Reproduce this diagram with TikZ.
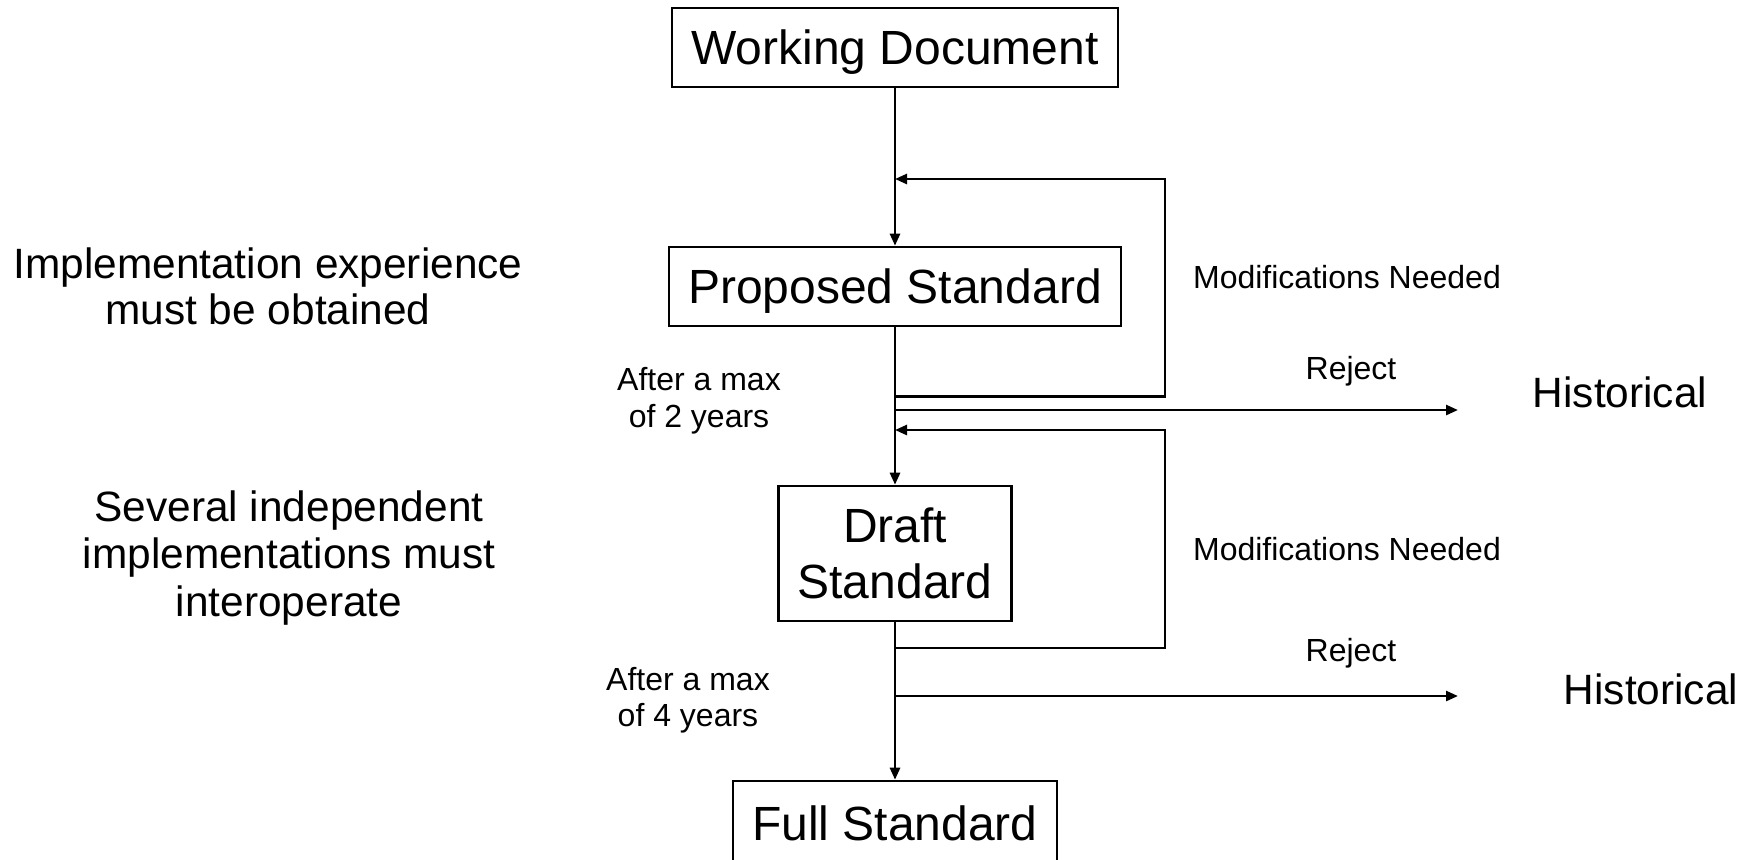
\documentclass[tikz,border=0pt]{standalone}
\usepackage{fontspec}
\setmainfont{Liberation Sans}
\usetikzlibrary{arrows.meta}
\begin{document}
\begin{tikzpicture}[x=0.5pt,y=-0.5pt,
  box/.style={draw, line width=1.3pt, inner sep=0pt, align=center, font=\fontsize{24}{28}\selectfont},
  onebox/.style={box, text height=17.2pt, text depth=0pt},
  midtext/.style={inner sep=0pt, align=center, font=\fontsize{21.2}{23.5}\selectfont},
  smalltext/.style={inner sep=0pt, align=center, font=\fontsize{16}{18.5}\selectfont},
  flow/.style={line width=1.3pt, -{Triangle[length=6pt,width=5pt]}},
]
\useasboundingbox (0,0) rectangle (1751,859);

% main boxes
\node[onebox, minimum width=223pt, minimum height=39.5pt] (wd) at (895,47.5) {Working Document};
\node[onebox, minimum width=226pt, minimum height=39.5pt] (ps) at (895,286.5) {Proposed Standard};
\node[box, minimum width=116.5pt, minimum height=67.5pt] (ds) at (895,553.5) {Draft\\Standard};
\node[onebox, minimum width=162pt, minimum height=42pt] (fs) at (895,823) {Full Standard};

% main flow
\draw[flow] (wd.south) -- (ps.north);
\draw[flow] (ps.south) -- (ds.north);
\draw[flow] (ds.south) -- (fs.north);

% feedback loop 1
\coordinate (f1b) at (895,396.5);
\coordinate (f1d) at (1165,179);
\coordinate (f1e) at (895,179);
\draw[flow] (f1b) -| (f1d) -- (f1e);

% reject 1
\coordinate (r1s) at (895,410);
\coordinate (r1e) at (1458,410);
\draw[flow] (r1s) -- (r1e);

% feedback loop 2
\coordinate (f2b) at (895,648);
\coordinate (f2d) at (1165,430);
\coordinate (f2e) at (895,430);
\draw[flow] (f2b) -| (f2d) -- (f2e);

% reject 2
\coordinate (r2s) at (895,696);
\coordinate (r2e) at (1458,696);
\draw[flow] (r2s) -- (r2e);

% labels
\node[smalltext] (mod1) at (1347,277) {Modifications Needed};
\node[smalltext] (mod2) at (1347,549.5) {Modifications Needed};
\node[smalltext, text height=11.4pt, text depth=0pt] (rej1) at (1351,368.5) {Reject};
\node[smalltext, text height=11.4pt, text depth=0pt] (rej2) at (1351,650) {Reject};
\node[midtext] (hist1) at (1620,392) {Historical};
\node[midtext] (hist2) at (1651,689) {Historical};
\node[smalltext, font=\fontsize{16}{18.5}\selectfont] (max2) at (699,401) {After a max\\of 2 years};
\node[smalltext, font=\fontsize{16}{18}\selectfont] (max4) at (688,700) {After a max\\of 4 years};
\node[midtext, font=\fontsize{21.2}{23}\selectfont] (impl) at (268,286.5) {Implementation experience\\must be obtained};
\node[midtext, font=\fontsize{21.2}{23.75}\selectfont] (sev) at (289,558) {Several independent\\implementations must\\interoperate};
\end{tikzpicture}
\end{document}
